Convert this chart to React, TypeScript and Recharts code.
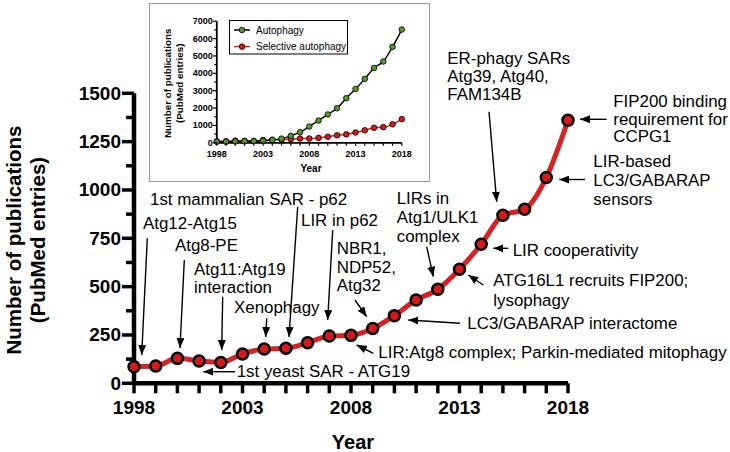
import { LineChart, Line, XAxis, YAxis, Legend } from 'recharts';

// publication counts per year (PubMed)
const years = [1998, 1999, 2000, 2001, 2002, 2003, 2004, 2005, 2006, 2007, 2008, 2009, 2010, 2011, 2012, 2013, 2014, 2015, 2016, 2017, 2018];
const selective = [86, 89, 129, 115, 108, 152, 177, 181, 210, 245, 248, 283, 350, 431, 486, 590, 719, 869, 900, 1064, 1361];
const autophagy = [60, 60, 75, 85, 95, 120, 160, 240, 400, 610, 940, 1280, 1630, 1990, 2570, 3100, 3680, 4310, 4680, 5520, 6520];

const xLabelYears = [1998, 2003, 2008, 2013, 2018];
const mainYTicks = [0, 125, 250, 375, 500, 625, 750, 875, 1000, 1125, 1250, 1375, 1500];
const insetYTicks = [0, 500, 1000, 1500, 2000, 2500, 3000, 3500, 4000, 4500, 5000, 5500, 6000, 6500, 7000];

const seriesNames = ['Autophagy', 'Selective autophagy'];

// annotation text (left x, first-line centre y, line height)
const notes: { lines: string[]; x: number; y: number; lh?: number }[] = [
  { lines: ['1st mammalian SAR - p62'], x: 150, y: 199.3 },
  { lines: ['Atg12-Atg15'], x: 143, y: 223.3 },
  { lines: ['Atg8-PE'], x: 175, y: 245 },
  { lines: ['Atg11:Atg19', 'interaction'], x: 194, y: 269.3, lh: 18 },
  { lines: ['LIR in p62'], x: 301, y: 220.7 },
  { lines: ['NBR1,', 'NDP52,', 'Atg32'], x: 336.7, y: 248.3, lh: 18.8 },
  { lines: ['Xenophagy'], x: 234, y: 307.3 },
  { lines: ['LIRs in', 'Atg1/ULK1', 'complex'], x: 396.7, y: 198.3, lh: 19.2 },
  { lines: ['ER-phagy SARs', 'Atg39, Atg40,', 'FAM134B'], x: 447.3, y: 58.3, lh: 18.3 },
  { lines: ['FIP200 binding', 'requirement for', 'CCPG1'], x: 613.3, y: 101.7, lh: 17.5 },
  { lines: ['LIR-based', 'LC3/GABARAP', 'sensors'], x: 593.3, y: 161, lh: 19 },
  { lines: ['LIR cooperativity'], x: 512.7, y: 250 },
  { lines: ['ATG16L1 recruits FIP200;', 'lysophagy'], x: 493.3, y: 280.7, lh: 19.3 },
  { lines: ['LC3/GABARAP interactome'], x: 467.3, y: 323.3 },
  { lines: ['LIR:Atg8 complex; Parkin-mediated mitophagy'], x: 378.3, y: 352 },
  { lines: ['1st yeast SAR - ATG19'], x: 236.7, y: 371.7 },
];

// arrows: tail x, tail y, tip x, tip y
const arrows = [
  [147.3, 238.3, 141.7, 355],
  [184.3, 260, 180, 348],
  [222.7, 296.7, 221.7, 350],
  [297.7, 206.7, 289, 337],
  [266.7, 318.3, 265.7, 337],
  [332.7, 230, 327.7, 320],
  [355, 300, 366.7, 316.7],
  [426.7, 246.7, 433.3, 276.7],
  [489, 111.7, 496.7, 201.7],
  [606.7, 119.3, 580, 119.3],
  [585, 179.5, 559.3, 179.5],
  [508.3, 248.3, 493.3, 248.3],
  [483.3, 285, 468.3, 275],
  [460, 323.3, 408.3, 320],
  [373.3, 353.3, 356.7, 345],
  [235, 371.7, 203.3, 371.7],
];

const data = years.map((year, i) => ({ year, selective: selective[i], autophagy: autophagy[i] }));

const FONT = '"Liberation Sans", Arial, Helvetica, sans-serif';

function MainXTick({ x, y, payload }: any) {
  const lbl = xLabelYears.includes(payload.value);
  return (
    <g>
      <line x1={x} y1={y} x2={x} y2={y + 10} stroke="#000" strokeWidth={3.5} />
      {lbl && (
        <text x={x} y={y + 24} textAnchor="middle" dominantBaseline="central" fontSize={19} fontWeight="bold" fontFamily={FONT} fill="#000">
          {payload.value}
        </text>
      )}
    </g>
  );
}

function MainYTick({ x, y, payload }: any) {
  const major = payload.value % 250 === 0;
  return (
    <g>
      <line x1={x - (major ? 12 : 8)} y1={y} x2={x} y2={y} stroke="#000" strokeWidth={3.5} />
      {major && (
        <text x={x - 13} y={y} textAnchor="end" dominantBaseline="central" fontSize={19} fontWeight="bold" fontFamily={FONT} fill="#000">
          {payload.value}
        </text>
      )}
    </g>
  );
}

function InsetXTick({ x, y, payload }: any) {
  const lbl = xLabelYears.includes(payload.value);
  return (
    <g>
      <line x1={x} y1={y} x2={x} y2={y + 3} stroke="#000" strokeWidth={1.2} />
      {lbl && (
        <text x={x} y={y + 11.5} textAnchor="middle" dominantBaseline="central" fontSize={9} fontWeight="bold" fontFamily={FONT} fill="#000">
          {payload.value}
        </text>
      )}
    </g>
  );
}

function InsetYTick({ x, y, payload }: any) {
  const major = payload.value % 1000 === 0;
  return (
    <g>
      <line x1={x - (major ? 4 : 2.5)} y1={y} x2={x} y2={y} stroke="#000" strokeWidth={1.2} />
      {major && (
        <text x={x - 4} y={y} textAnchor="end" dominantBaseline="central" fontSize={9} fontWeight="bold" fontFamily={FONT} fill="#000">
          {payload.value}
        </text>
      )}
    </g>
  );
}

function InsetLegend() {
  const rows = [
    { name: seriesNames[0], line: '#000', fill: '#4e9a2b' },
    { name: seriesNames[1], line: '#e0201f', fill: '#d7191c' },
  ];
  return (
    <svg width={119} height={35} style={{ display: 'block' }}>
      <rect x={0.5} y={0.5} width={118} height={33.5} fill="#fff" stroke="#000" strokeWidth={1} />
      {rows.map((r, i) => (
        <g key={r.name}>
          <line x1={5} y1={10 + i * 16.6} x2={21} y2={10 + i * 16.6} stroke={r.line} strokeWidth={1.5} />
          <circle cx={13} cy={10 + i * 16.6} r={2.8} fill={r.fill} stroke="#000" strokeWidth={0.8} />
          <text x={27} y={10 + i * 16.6} dominantBaseline="central" fontSize={10} fontFamily={FONT} fill="#000">
            {r.name}
          </text>
        </g>
      ))}
    </svg>
  );
}

export default function App() {
  return (
    <div style={{ position: 'absolute', left: 0, top: 0, width: 730, height: 452, background: '#fff', fontFamily: FONT }}>
      <LineChart width={730} height={452} data={data} margin={{ top: 93.3, right: 162, bottom: 38.7, left: 74 }}>
        <XAxis
          dataKey="year"
          type="number"
          domain={[1998, 2018]}
          ticks={years}
          interval={0}
          height={30}
          tickSize={0}
          tickMargin={0}
          axisLine={{ stroke: '#000', strokeWidth: 4.5 }}
          tickLine={false}
          tick={(p: any) => <MainXTick {...p} />}
        />
        <YAxis
          type="number"
          domain={[0, 1500]}
          ticks={mainYTicks}
          interval={0}
          width={60}
          tickSize={0}
          tickMargin={0}
          axisLine={{ stroke: '#000', strokeWidth: 4.5 }}
          tickLine={false}
          tick={(p: any) => <MainYTick {...p} />}
        />
        <Line
          type="monotone"
          dataKey="selective"
          stroke="#d62222"
          strokeWidth={5}
          dot={{ r: 5.5, fill: '#d7191c', stroke: '#000', strokeWidth: 2.5 }}
          activeDot={false}
          isAnimationActive={false}
        />
      </LineChart>

      <div style={{ position: 'absolute', left: 149, top: 3, width: 281, height: 179, border: '1.5px solid #999', boxSizing: 'border-box', background: '#fff' }}>
        <LineChart width={278} height={176} data={data} margin={{ top: 17.2, right: 26.2, bottom: 17.2, left: 26.8 }}>
          <XAxis
            dataKey="year"
            type="number"
            domain={[1998, 2018]}
            ticks={years}
            interval={0}
            height={20}
            tickSize={0}
            tickMargin={0}
            axisLine={{ stroke: '#000', strokeWidth: 1.8 }}
            tickLine={false}
            tick={(p: any) => <InsetXTick {...p} />}
          />
          <YAxis
            type="number"
            domain={[0, 7000]}
            ticks={insetYTicks}
            interval={0}
            width={40}
            tickSize={0}
            tickMargin={0}
            axisLine={{ stroke: '#000', strokeWidth: 1.8 }}
            tickLine={false}
            tick={(p: any) => <InsetYTick {...p} />}
          />
          <Legend
            layout="vertical"
            verticalAlign="middle"
            align="center"
            wrapperStyle={{ left: 78.8, top: 16.2, width: 119, height: 35 }}
            content={() => <InsetLegend />}
          />
          <Line
            type="monotone"
            dataKey="selective"
            name={seriesNames[1]}
            stroke="#e0201f"
            strokeWidth={1.5}
            dot={{ r: 2.8, fill: '#d7191c', stroke: '#000', strokeWidth: 0.8 }}
            activeDot={false}
            isAnimationActive={false}
          />
          <Line
            type="monotone"
            dataKey="autophagy"
            name={seriesNames[0]}
            stroke="#000"
            strokeWidth={1.5}
            dot={{ r: 2.8, fill: '#4e9a2b', stroke: '#000', strokeWidth: 0.8 }}
            activeDot={false}
            isAnimationActive={false}
          />
        </LineChart>
      </div>

      <svg width={730} height={452} style={{ position: 'absolute', left: 0, top: 0, pointerEvents: 'none' }}>
        <defs>
          <marker id="ah" viewBox="0 0 10 8" refX={10} refY={4} markerWidth={10} markerHeight={8} markerUnits="userSpaceOnUse" orient="auto">
            <path d="M0,0 L10,4 L0,8 z" fill="#000" />
          </marker>
        </defs>
        {/* main axis titles */}
        <text x={353} y={442} textAnchor="middle" dominantBaseline="central" fontSize={20} fontWeight="bold" fontFamily={FONT}>Year</text>
        <text transform="translate(13,240) rotate(-90)" textAnchor="middle" dominantBaseline="central" fontSize={20.5} fontWeight="bold" fontFamily={FONT}>Number of publications</text>
        <text transform="translate(37,240) rotate(-90)" textAnchor="middle" dominantBaseline="central" fontSize={20.5} fontWeight="bold" fontFamily={FONT}>(PubMed entries)</text>
        {/* inset axis titles */}
        <text x={311} y={168.3} textAnchor="middle" dominantBaseline="central" fontSize={10} fontWeight="bold" fontFamily={FONT}>Year</text>
        <text transform="translate(167.5,83.3) rotate(-90)" textAnchor="middle" dominantBaseline="central" fontSize={9.8} fontWeight="bold" fontFamily={FONT}>Number of publications</text>
        <text transform="translate(179.5,83.3) rotate(-90)" textAnchor="middle" dominantBaseline="central" fontSize={9.8} fontWeight="bold" fontFamily={FONT}>(PubMed entries)</text>
        {/* annotations */}
        {arrows.map((a, i) => (
          <line key={i} x1={a[0]} y1={a[1]} x2={a[2]} y2={a[3]} stroke="#000" strokeWidth={1.4} markerEnd="url(#ah)" />
        ))}
        {notes.map((n, i) =>
          n.lines.map((t, j) => (
            <text key={i + '-' + j} x={n.x} y={n.y + j * (n.lh || 18)} dominantBaseline="central" fontSize={16.9} fontFamily={FONT} fill="#000">
              {t}
            </text>
          ))
        )}
      </svg>
    </div>
  );
}
